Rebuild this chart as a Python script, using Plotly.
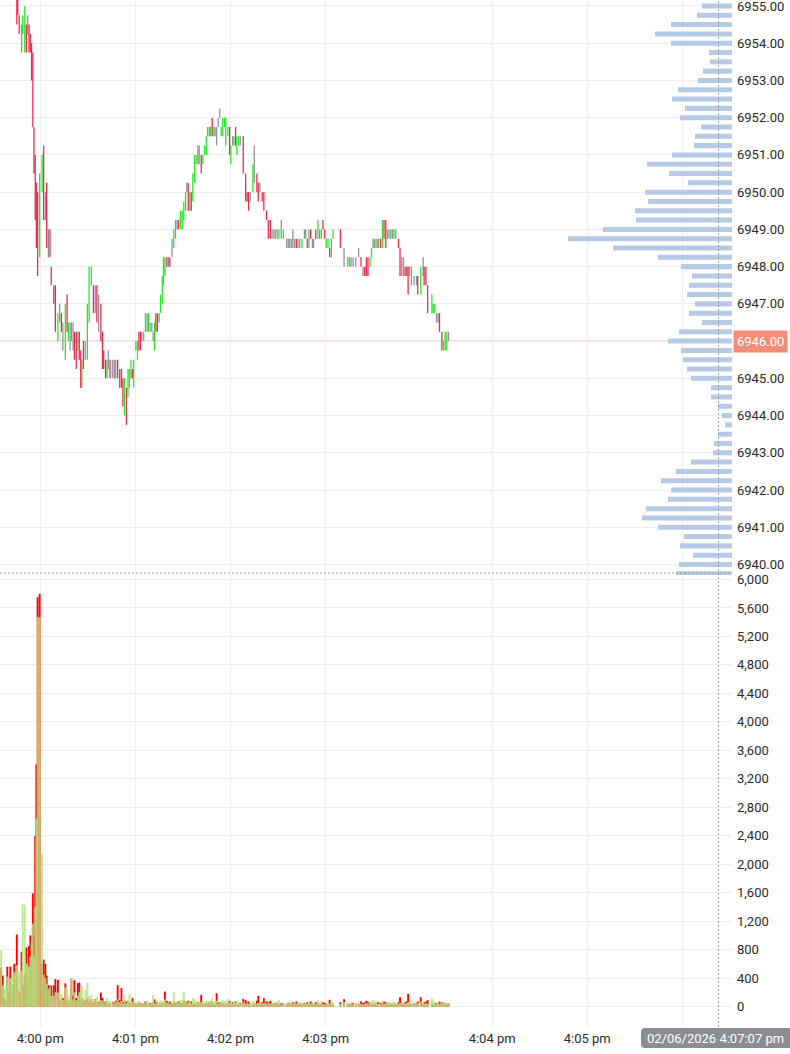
import plotly.graph_objects as go

# ---------------- price bars (seconds after 4:00:00 pm) ----------------
bar_t = [
    -14.8, -14.2, -13.3, -11.8, -11.1, -9.8, -8.8, -7.9, -7.1, -6.3,
    -5.5, -4.7, -4.0, -3.2, -2.5, -1.7, -0.4, 1.1, 2.1, 3.2,
    4.0, 5.1, 6.1, 6.9, 8.5, 9.5, 11.1, 12.2, 13.3, 14.2,
    15.8, 16.9, 17.7, 18.8, 19.6, 20.7, 21.5, 22.7, 23.7, 24.6,
    25.5, 26.2, 27.2, 28.4, 29.7, 30.8, 32.2, 33.5, 34.7, 35.7,
    36.8, 38.2, 39.2, 40.0, 41.2, 42.1, 42.9, 44.0, 45.7, 46.7,
    47.6, 48.8, 50.1, 51.2, 52.1, 53.1, 54.3, 55.3, 56.2, 57.2,
    58.1, 58.9, 60.3, 61.3, 62.2, 63.2, 64.0, 65.2, 66.3, 67.4,
    68.2, 69.2, 70.3, 71.2, 72.0, 72.9, 73.9, 75.0, 75.8, 76.9,
    77.7, 78.6, 79.8, 80.8, 81.7, 83.1, 84.2, 85.3, 86.3, 87.2,
    88.4, 89.5, 90.5, 91.6, 92.4, 93.3, 94.3, 95.2, 96.2, 97.3,
    98.3, 99.4, 100.2, 101.5, 102.5, 103.6, 104.7, 105.5, 106.6, 107.4,
    108.4, 109.5, 110.3, 111.2, 112.2, 113.2, 114.1, 115.1, 116.2, 117.0,
    118.3, 119.4, 120.2, 121.3, 122.1, 123.2, 124.0, 125.1, 126.1, 128.0,
    129.5, 130.5, 131.4, 132.4, 134.1, 135.0, 136.6, 137.5, 138.5, 140.0,
    141.0, 142.7, 143.8, 145.1, 146.2, 147.4, 148.2, 149.4, 150.5, 152.0,
    153.3, 155.4, 156.4, 157.3, 158.3, 159.3, 160.4, 161.5, 162.5, 163.6,
    165.0, 166.6, 167.4, 168.4, 169.5, 170.5, 171.6, 172.4, 173.7, 175.1,
    176.2, 177.3, 178.3, 179.4, 180.4, 181.5, 182.5, 183.6, 184.7, 189.3,
    191.6, 193.9, 195.0, 196.0, 197.3, 199.0, 200.8, 202.3, 203.6, 204.6,
    205.7, 206.7, 208.0, 208.9, 209.9, 210.8, 211.8, 213.0, 214.7, 215.8,
    216.8, 217.9, 219.0, 220.0, 221.1, 222.1, 223.1, 224.2, 225.9, 226.9,
    228.0, 229.1, 230.1, 231.2, 232.0, 232.9, 234.1, 235.8, 237.3, 238.1,
    240.0, 241.5, 242.1, 243.2, 244.3, 247.0, 247.8, 248.8, 249.9, 250.9,
    251.8, 253.3, 254.4, 255.4, 256.4, 257.5,
]
bar_low = [
    6954.50, 6954.75, 6954.25, 6953.75, 6954.25, 6953.75, 6953.75, 6954.25, 6953.75, 6953.75,
    6953.00, 6951.75, 6950.50, 6949.25, 6948.50, 6947.75, 6948.25, 6950.00, 6949.25, 6949.25,
    6948.50, 6948.25, 6948.25, 6947.50, 6947.00, 6946.25, 6946.00, 6946.50, 6946.25, 6945.75,
    6945.50, 6946.25, 6946.00, 6945.75, 6946.00, 6945.75, 6945.50, 6945.25, 6945.75, 6945.50,
    6944.75, 6944.75, 6945.25, 6945.50, 6945.50, 6946.50, 6947.50, 6946.75, 6946.75, 6946.50,
    6946.25, 6946.00, 6945.25, 6945.25, 6945.00, 6945.00, 6945.25, 6945.00, 6945.00, 6945.00,
    6945.00, 6945.00, 6944.75, 6944.75, 6944.25, 6944.00, 6943.75, 6944.50, 6944.75, 6945.00,
    6945.00, 6944.75, 6945.75, 6945.50, 6945.75, 6945.75, 6946.00, 6946.00, 6946.25, 6946.25,
    6946.25, 6946.25, 6946.25, 6946.00, 6945.75, 6946.25, 6946.25, 6946.50, 6946.75, 6947.00,
    6947.50, 6947.75, 6948.00, 6948.00, 6948.00, 6948.25, 6948.50, 6948.75, 6949.00, 6949.00,
    6949.00, 6949.00, 6949.25, 6949.50, 6950.00, 6949.50, 6949.50, 6949.50, 6949.75, 6950.25,
    6950.75, 6950.75, 6950.75, 6950.50, 6950.75, 6951.00, 6951.00, 6951.50, 6951.50, 6951.50,
    6951.50, 6951.50, 6951.50, 6951.25, 6951.75, 6952.00, 6951.50, 6951.50, 6951.75, 6951.25,
    6951.50, 6951.00, 6950.75, 6951.25, 6951.25, 6951.25, 6951.00, 6951.25, 6951.25, 6950.50,
    6949.75, 6949.75, 6949.50, 6949.75, 6950.00, 6950.25, 6950.00, 6949.75, 6950.00, 6949.75,
    6949.50, 6949.25, 6948.75, 6948.75, 6948.75, 6948.75, 6948.75, 6948.75, 6948.75, 6948.75,
    6948.75, 6948.50, 6948.50, 6948.50, 6948.50, 6948.50, 6948.50, 6948.50, 6948.50, 6948.50,
    6948.50, 6948.75, 6948.75, 6948.50, 6948.50, 6948.75, 6948.50, 6948.50, 6948.75, 6948.75,
    6948.75, 6948.75, 6949.00, 6948.75, 6948.50, 6948.50, 6948.25, 6948.25, 6948.75, 6948.50,
    6948.00, 6948.00, 6948.00, 6948.00, 6948.00, 6948.00, 6948.25, 6948.00, 6947.75, 6947.75,
    6947.75, 6947.75, 6948.00, 6948.25, 6948.50, 6948.50, 6948.50, 6948.50, 6948.50, 6948.50,
    6948.75, 6948.50, 6948.75, 6948.75, 6948.75, 6948.75, 6948.75, 6948.75, 6948.50, 6947.75,
    6947.75, 6947.75, 6947.75, 6947.75, 6947.25, 6947.75, 6947.50, 6947.50, 6947.50, 6947.25,
    6947.25, 6947.75, 6947.50, 6947.50, 6946.75, 6946.75, 6946.75, 6946.75, 6946.50, 6946.50,
    6946.25, 6945.75, 6945.75, 6945.75, 6945.75, 6946.00,
]
bar_high = [
    6955.25, 6955.25, 6954.75, 6954.50, 6954.75, 6955.00, 6954.50, 6954.75, 6954.50, 6954.25,
    6954.00, 6953.75, 6951.75, 6951.00, 6950.25, 6950.00, 6950.50, 6951.00, 6951.25, 6950.00,
    6950.25, 6949.00, 6949.00, 6948.00, 6947.50, 6947.50, 6946.75, 6947.00, 6946.75, 6946.50,
    6947.00, 6947.25, 6946.50, 6946.50, 6946.50, 6946.50, 6946.25, 6946.25, 6946.25, 6946.25,
    6945.75, 6945.50, 6946.00, 6946.00, 6947.00, 6948.00, 6948.00, 6947.50, 6947.50, 6947.50,
    6947.25, 6947.00, 6946.25, 6945.75, 6945.50, 6945.50, 6945.75, 6945.50, 6945.50, 6945.50,
    6945.50, 6945.50, 6945.25, 6945.25, 6945.00, 6945.00, 6944.75, 6945.25, 6945.25, 6945.50,
    6945.25, 6945.50, 6946.00, 6946.00, 6946.25, 6946.25, 6946.25, 6946.25, 6946.75, 6946.75,
    6946.75, 6946.50, 6946.50, 6946.25, 6946.50, 6946.75, 6946.75, 6946.75, 6947.25, 6947.75,
    6948.25, 6948.25, 6948.25, 6948.25, 6948.25, 6948.75, 6949.00, 6949.25, 6949.25, 6949.25,
    6949.50, 6949.50, 6949.75, 6950.00, 6950.25, 6950.25, 6950.00, 6950.00, 6950.50, 6951.00,
    6951.00, 6951.25, 6951.25, 6951.00, 6951.00, 6951.25, 6951.50, 6951.75, 6951.75, 6951.75,
    6952.00, 6951.75, 6951.75, 6951.75, 6952.00, 6952.25, 6951.75, 6952.00, 6952.00, 6952.00,
    6951.75, 6951.75, 6951.25, 6951.50, 6951.50, 6951.75, 6951.50, 6951.50, 6951.50, 6951.50,
    6950.50, 6950.00, 6950.00, 6950.00, 6950.75, 6951.25, 6950.50, 6950.25, 6950.25, 6950.00,
    6950.00, 6949.50, 6949.25, 6949.25, 6949.00, 6949.00, 6949.00, 6949.00, 6949.00, 6949.25,
    6949.00, 6948.75, 6948.75, 6948.75, 6948.75, 6949.00, 6948.75, 6948.75, 6948.75, 6948.75,
    6948.75, 6949.00, 6949.00, 6948.75, 6949.00, 6949.00, 6948.75, 6948.75, 6949.00, 6949.25,
    6949.00, 6949.00, 6949.25, 6949.00, 6948.75, 6948.75, 6948.50, 6948.75, 6949.00, 6949.00,
    6948.50, 6948.25, 6948.25, 6948.25, 6948.25, 6948.25, 6948.50, 6948.25, 6948.00, 6948.00,
    6948.25, 6948.25, 6948.25, 6948.50, 6948.75, 6948.75, 6948.75, 6948.75, 6948.75, 6949.25,
    6949.25, 6949.25, 6949.00, 6949.00, 6949.00, 6949.00, 6949.00, 6949.00, 6948.75, 6948.50,
    6948.25, 6948.25, 6948.00, 6948.00, 6948.00, 6948.00, 6948.00, 6947.75, 6947.75, 6947.75,
    6948.00, 6948.25, 6948.00, 6948.00, 6947.50, 6947.25, 6947.00, 6947.00, 6946.75, 6946.75,
    6946.75, 6946.25, 6946.00, 6946.25, 6946.25, 6946.25,
]
# u = up bar, d = down bar, n = unchanged
bar_dir = (
    ["d", "d", "d", "n", "u", "u", "d", "n", "d", "d"]
    + ["d", "d", "d", "d", "d", "d", "u", "u", "d", "n"]
    + ["d", "n", "d", "d", "d", "d", "u", "n", "d", "n"]
    + ["u", "d", "u", "n", "n", "n", "d", "d", "u", "d"]
    + ["d", "u", "d", "n", "u", "u", "u", "d", "n", "d"]
    + ["n", "d", "d", "d", "d", "u", "n", "d", "n", "n"]
    + ["n", "d", "d", "d", "d", "u", "d", "u", "u", "u"]
    + ["d", "u", "u", "u", "d", "d", "n", "u", "u", "n"]
    + ["u", "n", "n", "n", "u", "d", "d", "u", "u", "u"]
    + ["u", "u", "d", "n", "d", "n", "u", "n", "n", "d"]
    + ["u", "u", "u", "u", "n", "d", "u", "d", "u", "u"]
    + ["u", "n", "n", "d", "u", "u", "u", "u", "n", "u"]
    + ["d", "n", "u", "n", "n", "n", "u", "u", "u", "u"]
    + ["u", "d", "u", "n", "u", "d", "u", "u", "n", "d"]
    + ["d", "d", "d", "n", "u", "n", "d", "d", "n", "d"]
    + ["d", "d", "d", "d", "n", "n", "n", "n", "u", "n"]
    + ["u", "n", "n", "u", "n", "n", "n", "d", "n", "u"]
    + ["u", "n", "u", "d", "n", "d", "n", "n", "d", "u"]
    + ["n", "u", "d", "d", "u", "u", "d", "u", "u", "d"]
    + ["n", "u", "u", "n", "n", "n", "n", "d", "n", "d"]
    + ["d", "d", "u", "u", "n", "n", "u", "d", "d", "u"]
    + ["d", "d", "n", "u", "n", "n", "u", "n", "d", "d"]
    + ["n", "n", "d", "d", "d", "n", "u", "n", "n", "d"]
    + ["u", "n", "d", "d", "d", "u", "u", "u", "n", "n"]
    + ["d", "d", "u", "u", "u", "n"]
)

# ---------------- volume per bar (sell = red, buy = green) ----------------
pre_t = [-24.7, -23.7, -22.6, -21.6, -20.8, -19.9, -18.9, -18.0, -17.4, -16.4]
pre_sell = [550, 435, 120, 80, 560, 200, 560, 150, 300, 600]
pre_buy = [790, 300, 250, 290, 420, 300, 400, 330, 440, 480]

vol_sell = [
    1010, 250, 200, 770, 300, 450, 830, 400, 850, 1000,
    700, 1590, 1000, 2400, 3400, 5750, 5800, 600, 660, 600,
    435, 300, 290, 290, 300, 385, 375, 100, 80, 120,
    325, 100, 80, 60, 385, 150, 370, 120, 330, 337,
    100, 120, 80, 90, 120, 80, 100, 60, 103, 60,
    70, 196, 120, 60, 70, 60, 50, 40, 60, 50,
    80, 300, 90, 258, 60, 80, 70, 50, 60, 40,
    117, 50, 40, 30, 60, 50, 40, 30, 70, 40,
    30, 50, 40, 60, 100, 60, 40, 30, 40, 50,
    60, 210, 80, 60, 70, 40, 50, 60, 40, 70,
    40, 50, 80, 40, 60, 80, 30, 70, 40, 50,
    30, 60, 40, 164, 40, 30, 50, 40, 60, 30,
    70, 40, 30, 187, 50, 60, 40, 50, 30, 40,
    50, 80, 40, 60, 30, 70, 40, 30, 50, 108,
    90, 60, 70, 40, 30, 50, 80, 150, 40, 60,
    117, 70, 60, 80, 40, 30, 50, 40, 30, 50,
    40, 30, 50, 40, 30, 60, 40, 70, 30, 40,
    30, 50, 40, 60, 30, 70, 40, 30, 60, 40,
    30, 40, 60, 50, 40, 30, 94, 40, 30, 60,
    103, 40, 30, 40, 50, 30, 40, 70, 50, 60,
    80, 60, 30, 40, 30, 40, 30, 60, 50, 40,
    70, 60, 40, 30, 40, 30, 40, 30, 60, 131,
    50, 40, 60, 70, 178, 40, 30, 40, 50, 70,
    131, 40, 60, 70, 90, 40, 30, 40, 50, 40,
    70, 60, 30, 40, 30, 40,
]
vol_buy = [
    580, 510, 480, 500, 1440, 1430, 600, 560, 560, 700,
    900, 1165, 700, 1400, 2640, 5470, 5470, 2150, 450, 400,
    320, 250, 280, 150, 150, 200, 196, 190, 180, 90,
    270, 250, 150, 120, 407, 100, 200, 90, 150, 200,
    243, 290, 110, 234, 337, 150, 164, 80, 100, 140,
    60, 90, 80, 50, 60, 120, 70, 80, 50, 40,
    60, 100, 60, 80, 40, 160, 50, 90, 180, 70,
    60, 80, 60, 70, 80, 40, 50, 60, 50, 60,
    70, 40, 60, 164, 50, 40, 80, 60, 90, 70,
    80, 100, 50, 70, 40, 60, 210, 80, 60, 50,
    90, 100, 210, 90, 40, 60, 80, 40, 120, 100,
    80, 50, 60, 60, 80, 70, 90, 60, 50, 80,
    120, 50, 70, 80, 40, 50, 70, 90, 60, 80,
    110, 50, 70, 40, 60, 50, 80, 60, 40, 60,
    40, 50, 40, 60, 80, 60, 40, 50, 60, 40,
    50, 40, 50, 40, 60, 50, 40, 70, 90, 40,
    60, 50, 40, 70, 50, 40, 50, 40, 60, 70,
    60, 40, 60, 40, 50, 40, 60, 50, 40, 90,
    60, 70, 40, 30, 60, 50, 40, 70, 60, 40,
    60, 60, 50, 60, 40, 50, 60, 40, 30, 40,
    50, 40, 60, 70, 95, 60, 70, 40, 30, 80,
    40, 50, 60, 70, 50, 60, 70, 50, 40, 50,
    60, 50, 40, 50, 60, 50, 80, 60, 40, 50,
    70, 60, 40, 50, 40, 117, 80, 70, 40, 50,
    40, 50, 60, 70, 50, 30,
]

# ---------------- volume profile (right side) ----------------
profile_price = [
    6955.25, 6955.00, 6954.75, 6954.50, 6954.25, 6954.00, 6953.75, 6953.50, 6953.25, 6953.00,
    6952.75, 6952.50, 6952.25, 6952.00, 6951.75, 6951.50, 6951.25, 6951.00, 6950.75, 6950.50,
    6950.25, 6950.00, 6949.75, 6949.50, 6949.25, 6949.00, 6948.75, 6948.50, 6948.25, 6948.00,
    6947.75, 6947.50, 6947.25, 6947.00, 6946.75, 6946.50, 6946.25, 6946.00, 6945.75, 6945.50,
    6945.25, 6945.00, 6944.75, 6944.50, 6944.25, 6944.00, 6943.75, 6943.50, 6943.25, 6943.00,
    6942.75, 6942.50, 6942.25, 6942.00, 6941.75, 6941.50, 6941.25, 6941.00, 6940.75, 6940.50,
    6940.25, 6940.00, 6939.75,
]
profile_vol = [
    975, 750, 875, 1525, 1925, 1525, 575, 550, 725, 850,
    1350, 1500, 1175, 1300, 775, 925, 950, 1500, 2125, 1575,
    1100, 2175, 2100, 2425, 2400, 3225, 4100, 2975, 1850, 1275,
    1000, 1075, 1125, 925, 1075, 750, 1325, 1600, 1275, 1225,
    1125, 1025, 525, 525, 350, 250, 175, 350, 450, 475,
    1025, 1400, 1775, 1525, 1600, 2150, 2250, 1850, 1200, 1300,
    975, 1325, 1400,
]

last_price = 6946.00
tick_secs = [0, 60, 120, 180, 285, 345, 405]
tick_text = ["4:00 pm", "4:01 pm", "4:02 pm", "4:03 pm", "4:04 pm", "4:05 pm", ""]
crosshair_sec = 427.8
crosshair_label = "02/06/2026 4:07:07 pm"

# ---------------- figure ----------------
colors = {"u": "rgba(18,228,18,0.92)", "d": "rgba(232,22,60,0.92)", "n": "rgba(132,136,146,0.92)"}

fig = go.Figure()

fig.add_trace(go.Bar(
    x=bar_t, y=[h - l for h, l in zip(bar_high, bar_low)], base=bar_low,
    width=0.8, marker=dict(color=[colors[d] for d in bar_dir], line=dict(width=0)),
    xaxis="x", yaxis="y", hoverinfo="skip", showlegend=False,
))

fig.add_trace(go.Bar(
    y=profile_price, x=profile_vol, orientation="h", width=0.135,
    marker=dict(color="#b7cae5", line=dict(width=0)),
    xaxis="x2", yaxis="y", hoverinfo="skip", showlegend=False,
))

fig.add_trace(go.Bar(
    x=pre_t + bar_t, y=pre_sell + vol_sell, width=1.2,
    marker=dict(color="rgba(255,0,0,0.99)", line=dict(width=0)),
    xaxis="x", yaxis="y2", hoverinfo="skip", showlegend=False,
))
fig.add_trace(go.Bar(
    x=pre_t + bar_t, y=pre_buy + vol_buy, width=1.2,
    marker=dict(color="rgba(176,230,128,0.84)", line=dict(width=0)),
    xaxis="x", yaxis="y2", hoverinfo="skip", showlegend=False,
))

W, H = 790, 1054
ML, MR, MT, MB = 0, 58, 0, 27
PW, PH = W - ML - MR, H - MT - MB
split = (PH - 575) / PH

grid = "#eeeeee"
tickfont = dict(family="Roboto", size=13, color="#2a2a2a")

fig.update_layout(
    width=W, height=H,
    margin=dict(l=ML, r=MR, t=MT, b=MB, autoexpand=False),
    paper_bgcolor="white", plot_bgcolor="white",
    barmode="overlay", showlegend=False, hovermode=False,
    font=dict(family="Roboto", size=13, color="#2a2a2a"),
    xaxis=dict(
        domain=[0, 1], range=[-25.42, 436.3], anchor="y2",
        tickvals=tick_secs, ticktext=tick_text, tickfont=tickfont,
        showgrid=True, gridcolor=grid, gridwidth=1, zeroline=False,
        showline=False, ticks="", ticklabelstandoff=2, automargin=False,
        ticklabeloverflow="allow",
    ),
    xaxis2=dict(
        overlaying="x", anchor="y", range=[18300, 0], visible=False,
    ),
    yaxis=dict(
        domain=[split, 1], range=[6939.718, 6955.161], side="right", anchor="x",
        tick0=6940, dtick=1, tickformat=".2f", tickfont=tickfont,
        showgrid=True, gridcolor=grid, zeroline=False, showline=False, ticks="",
        ticklabelstandoff=4, automargin=False, ticklabeloverflow="allow",
    ),
    yaxis2=dict(
        domain=[0, split], range=[-288, 6063], side="right", anchor="x",
        tickvals=list(range(0, 6001, 400)), tickformat=",", tickfont=tickfont,
        showgrid=True, gridcolor=grid, zeroline=False, showline=False, ticks="",
        ticklabelstandoff=4, automargin=False, ticklabeloverflow="allow",
    ),
)

# last price line + label
fig.add_shape(type="line", xref="paper", x0=0, x1=1, yref="y", y0=last_price, y1=last_price,
              line=dict(color="rgba(240,140,120,0.75)", width=1), layer="below")
fig.add_annotation(xref="paper", x=1, xanchor="left", xshift=1, yref="y", y=last_price,
                   text=f"{last_price:.2f}", showarrow=False, bgcolor="#f28d77",
                   font=dict(family="Roboto", size=13, color="white"), borderpad=3)

# crosshair
fig.add_shape(type="line", xref="x", x0=crosshair_sec, x1=crosshair_sec, yref="paper", y0=0, y1=1,
              line=dict(color="#9a9a9a", width=1, dash="2px,2px"), layer="above")
fig.add_shape(type="line", xref="paper", x0=0, x1=1, yref="paper", y0=(PH - 573) / PH, y1=(PH - 573) / PH,
              line=dict(color="#9a9a9a", width=1, dash="2px,2px"), layer="above")

# crosshair time label (rounded box)
bx0, bx1 = 641 / PW, 792 / PW
by0, by1 = (PH - 1048) / PH, (PH - 1028) / PH
rx, ry = 4 / PW, 4 / PH
path = (f"M {bx0+rx},{by1} L {bx1-rx},{by1} Q {bx1},{by1} {bx1},{by1-ry} "
        f"L {bx1},{by0+ry} Q {bx1},{by0} {bx1-rx},{by0} L {bx0+rx},{by0} "
        f"Q {bx0},{by0} {bx0},{by0+ry} L {bx0},{by1-ry} Q {bx0},{by1} {bx0+rx},{by1} Z")
fig.add_shape(type="path", xref="paper", yref="paper", path=path,
              fillcolor="#8a8d92", line=dict(width=0), layer="above")
fig.add_annotation(xref="paper", yref="paper", x=715 / PW, y=(PH - 1038) / PH,
                   text=crosshair_label, showarrow=False, xanchor="center", yanchor="middle",
                   font=dict(family="Roboto", size=13, color="white"))

fig.write_html(
    "out.html",
    config={"displayModeBar": False},
    post_script="document.body.style.margin='0';document.body.style.padding='0';",
)
